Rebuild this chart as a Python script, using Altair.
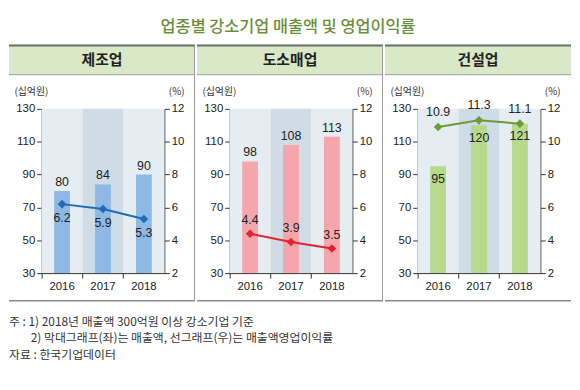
import altair as alt
import pandas as pd

# ---------------- data ----------------
years = ["2016", "2017", "2018"]
industries = ["제조업", "도소매업", "건설업"]
sales = {"제조업": [80, 84, 90], "도소매업": [98, 108, 113], "건설업": [95, 120, 121]}
margins = {"제조업": [6.2, 5.9, 5.3], "도소매업": [4.4, 3.9, 3.5], "건설업": [10.9, 11.3, 11.1]}
sales_ticks = [30, 50, 70, 90, 110, 130]
margin_ticks = [2, 4, 6, 8, 10, 12]
title_text = "업종별 강소기업 매출액 및 영업이익률"
notes = [
    "주 : 1) 2018년 매출액 300억원 이상 강소기업 기준",
    "2) 막대그래프(좌)는 매출액, 선그래프(우)는 매출액영업이익률",
    "자료 : 한국기업데이터",
]

# ---------------- styles ----------------
bar_colors = {"제조업": "#8fb9e5", "도소매업": "#f5a6aa", "건설업": "#b6d98c"}
line_colors = {"제조업": "#1f6db4", "도소매업": "#e2232d", "건설업": "#6c9b3b"}
band_colors = ["#e5ecf2", "#cfdbe5", "#e5ecf2"]
bar_dy = {"제조업": -9, "도소매업": -9, "건설업": 13}
line_dy = {"제조업": 14, "도소매업": -14, "건설업": -15}
HEADER = "#d9e8c6"
KR = "Noto Sans CJK KR"
NUM = "Liberation Sans"

W, H = 188, 260
PL, PR = 33, 157
PT, PB = 65, 231


def panel(i, name):
    df = pd.DataFrame({"year": years, "sales": sales[name], "margin": margins[name]})
    one = pd.DataFrame({"name": [name]})

    xs = alt.X(
        "year:N",
        sort=years,
        scale=alt.Scale(range=[PL, PR], paddingInner=0, paddingOuter=0),
        axis=alt.Axis(title=None, labelAngle=0, bandPosition=0, offset=PB - H,
                      tickSize=5, labelFontSize=11.5, labelFont=NUM, labelColor="#222",
                      labelPadding=3, domainColor="#333", tickColor="#333"),
    )
    ysc = alt.Scale(domain=[30, 130], range=[PB, PT], nice=False, zero=False)
    yax = alt.Axis(values=sales_ticks, offset=-PL, tickSize=5, labelFontSize=11.5,
                   labelFont=NUM, labelColor="#222", labelPadding=2, grid=False,
                   domainColor="#333", tickColor="#333",
                   title="(십억원)", titleAngle=0, titleX=-28, titleY=47,
                   titleAlign="left", titleBaseline="middle", titleFontSize=10,
                   titleFontWeight="normal", titleFont=KR, titleColor="#333")
    rsc = alt.Scale(domain=[2, 12], range=[PB, PT], nice=False, zero=False)
    rax = alt.Axis(orient="right", values=margin_ticks, offset=-(W - PR), tickSize=5,
                   labelFontSize=11.5, labelFont=NUM, labelColor="#222", labelPadding=2,
                   grid=False, domainColor="#333", tickColor="#333",
                   title="(%)", titleAngle=0, titleX=4, titleY=47,
                   titleAlign="left", titleBaseline="middle", titleFontSize=10,
                   titleFontWeight="normal", titleFont=KR, titleColor="#333")

    base = alt.Chart(df)
    bands = base.mark_rect().encode(
        x=xs,
        y=alt.Y(datum=130, scale=ysc, axis=yax),
        y2=alt.datum(30),
        color=alt.Color("year:N", scale=alt.Scale(domain=years, range=band_colors), legend=None),
    )
    bars = base.mark_bar(size=16, color=bar_colors[name]).encode(
        x=xs, y=alt.Y("sales:Q", scale=ysc, axis=yax), y2=alt.datum(30)
    )
    bar_text = base.mark_text(dy=bar_dy[name], fontSize=12.5, font=NUM, color="#222").encode(
        x=xs, y=alt.Y("sales:Q", scale=ysc, axis=yax), text="sales:Q"
    )
    left = alt.layer(bands, bars, bar_text)

    yr = alt.Y("margin:Q", scale=rsc, axis=rax)
    line = base.mark_line(color=line_colors[name], strokeWidth=2).encode(x=xs, y=yr)
    pts = base.mark_point(shape="diamond", filled=True, size=75, opacity=1,
                          color=line_colors[name]).encode(x=xs, y=yr)
    line_text = base.mark_text(dy=line_dy[name], fontSize=12.5, font=NUM, color="#222").encode(
        x=xs, y=yr, text=alt.Text("margin:Q", format=".1f")
    )
    right = alt.layer(line, pts, line_text)

    d = alt.Chart(one)
    header = d.mark_rect(color=HEADER).encode(
        x=alt.value(0), x2=alt.value(W), y=alt.value(0), y2=alt.value(30))
    header_text = d.mark_text(fontSize=15, fontWeight="bold", font=KR, color="#222").encode(
        text="name:N", x=alt.value(W / 2), y=alt.value(16))
    top_rule = d.mark_rule(color="#6e6e6e", strokeWidth=2).encode(
        x=alt.value(0), x2=alt.value(W), y=alt.value(1))
    head_rule = d.mark_rule(color="#9a9a9a", strokeWidth=1).encode(
        x=alt.value(0), x2=alt.value(W), y=alt.value(30.5))
    bottom_rule = d.mark_rule(color="#8a8a8a", strokeWidth=1.5).encode(
        x=alt.value(0), x2=alt.value(W), y=alt.value(H - 1))
    layers = [header, top_rule, head_rule, bottom_rule, header_text]
    if i < len(industries) - 1:
        layers.append(d.mark_rule(color="#9a9a9a", strokeWidth=1).encode(
            x=alt.value(W - 0.5), y=alt.value(1), y2=alt.value(H - 1)))
    layers += [left, right]
    return alt.layer(*layers).resolve_scale(y="independent").properties(width=W, height=H)


panels = alt.hconcat(*[panel(i, n) for i, n in enumerate(industries)], spacing=0)

title_chart = alt.Chart(pd.DataFrame({"t": [title_text]})).mark_text(
    fontSize=16.5, font=KR, fontWeight=500, color="#6b8e3a"
).encode(text="t:N", x=alt.value(3 * W / 2), y=alt.value(17)).properties(width=3 * W, height=35)

notes_df = pd.DataFrame({"i": list(range(len(notes))), "t": notes})
ny = alt.Y("i:Q", scale=alt.Scale(domain=[0, 2], range=[20, 54]), axis=None)
notes_base = alt.Chart(notes_df).mark_text(fontSize=12, font=KR, color="#333", align="left")
notes_main = notes_base.transform_filter("datum.i != 1").encode(text="t:N", x=alt.value(0), y=ny)
notes_sub = notes_base.transform_filter("datum.i == 1").encode(text="t:N", x=alt.value(22), y=ny)
notes_chart = alt.layer(notes_main, notes_sub).properties(width=3 * W, height=70)

chart = alt.vconcat(title_chart, panels, notes_chart, spacing=0).configure_view(
    stroke=None
).properties(padding=0)

chart.save("out.html", embed_options={"renderer": "svg", "actions": False})
